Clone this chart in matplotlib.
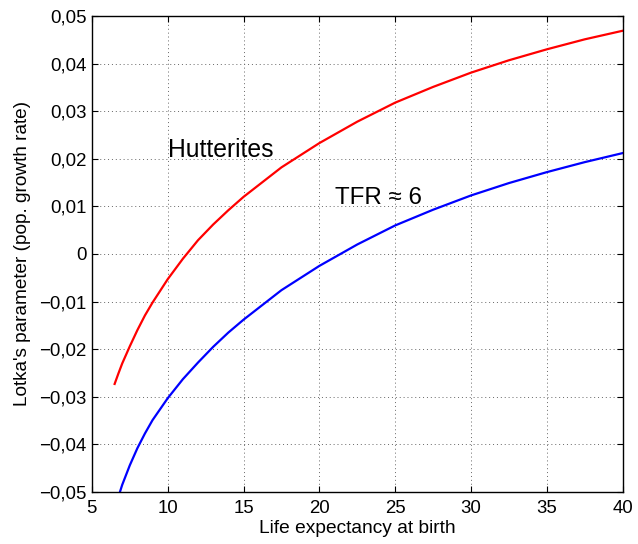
import matplotlib
matplotlib.use("Agg")
import matplotlib.pyplot as plt
from matplotlib.ticker import FuncFormatter

plt.rcParams['font.family'] = ['Liberation Sans', 'DejaVu Sans']

hutt_x = [6.5, 6.75, 7, 7.5, 8, 8.5, 9, 10, 11, 12, 13, 14, 15, 17.5, 20, 22.5, 25, 27.5, 30, 32.5, 35, 37.5, 40]
hutt_y = [-0.0273, -0.0251, -0.0230, -0.0194, -0.0160, -0.0129, -0.0102, -0.0053, -0.0010, 0.0029,
          0.0062, 0.0092, 0.0120, 0.0182, 0.0233, 0.0278, 0.0318, 0.0351, 0.0381, 0.0407,
          0.0430, 0.0451, 0.0469]

tfr_x = [6.85, 7, 7.5, 8, 8.5, 9, 10, 11, 12, 13, 14, 15, 17.5, 20, 22.5, 25, 27.5, 30, 32.5, 35, 37.5, 40]
tfr_y = [-0.0500, -0.0485, -0.0444, -0.0408, -0.0377, -0.0349, -0.0303, -0.0263, -0.0228, -0.0195,
         -0.0165, -0.0138, -0.0076, -0.0025, 0.0020, 0.0060, 0.0093, 0.0123, 0.0149, 0.0172,
         0.0193, 0.0212]

xticks = [5, 10, 15, 20, 25, 30, 35, 40]
yticks = [-0.05, -0.04, -0.03, -0.02, -0.01, 0, 0.01, 0.02, 0.03, 0.04, 0.05]

fig = plt.figure(figsize=(6.38, 5.44), dpi=100)
ax = fig.add_axes([0.144, 0.0956, 0.832, 0.875])

ax.plot(hutt_x, hutt_y, color='#ff0000', lw=1.6, solid_joinstyle='round')
ax.plot(tfr_x, tfr_y, color='#0000ff', lw=1.6, solid_joinstyle='round')

ax.set_xlim(5, 40)
ax.set_ylim(-0.05, 0.05)
ax.set_xticks(xticks)
ax.set_yticks(yticks)

def yfmt(v, pos):
    if abs(v) < 1e-12:
        return "0"
    s = f"{v:.2f}".replace('.', ',').replace('-', '\u2212')
    return s
ax.yaxis.set_major_formatter(FuncFormatter(yfmt))

ax.grid(True, linestyle=(0, (1, 3)), color='#666666', lw=0.7)
ax.tick_params(direction='in', top=True, right=True, labelsize=13.4, length=4, width=0.8,
               colors='black', pad=4)
ax.tick_params(axis='x', pad=6)
for s in ax.spines.values():
    s.set_linewidth(1.0)

ax.set_xlabel("Life expectancy at birth", fontsize=13.8, labelpad=2)
ax.set_ylabel("Lotka's parameter (pop. growth rate)", fontsize=13.7, labelpad=6)

ax.text(10, 0.0218, "Hutterites", fontsize=17.8, va='center', ha='left')
ax.text(21, 0.0118, "TFR \u2248 6", fontsize=17.4, va='center', ha='left')

fig.savefig("out.png", dpi=100)
